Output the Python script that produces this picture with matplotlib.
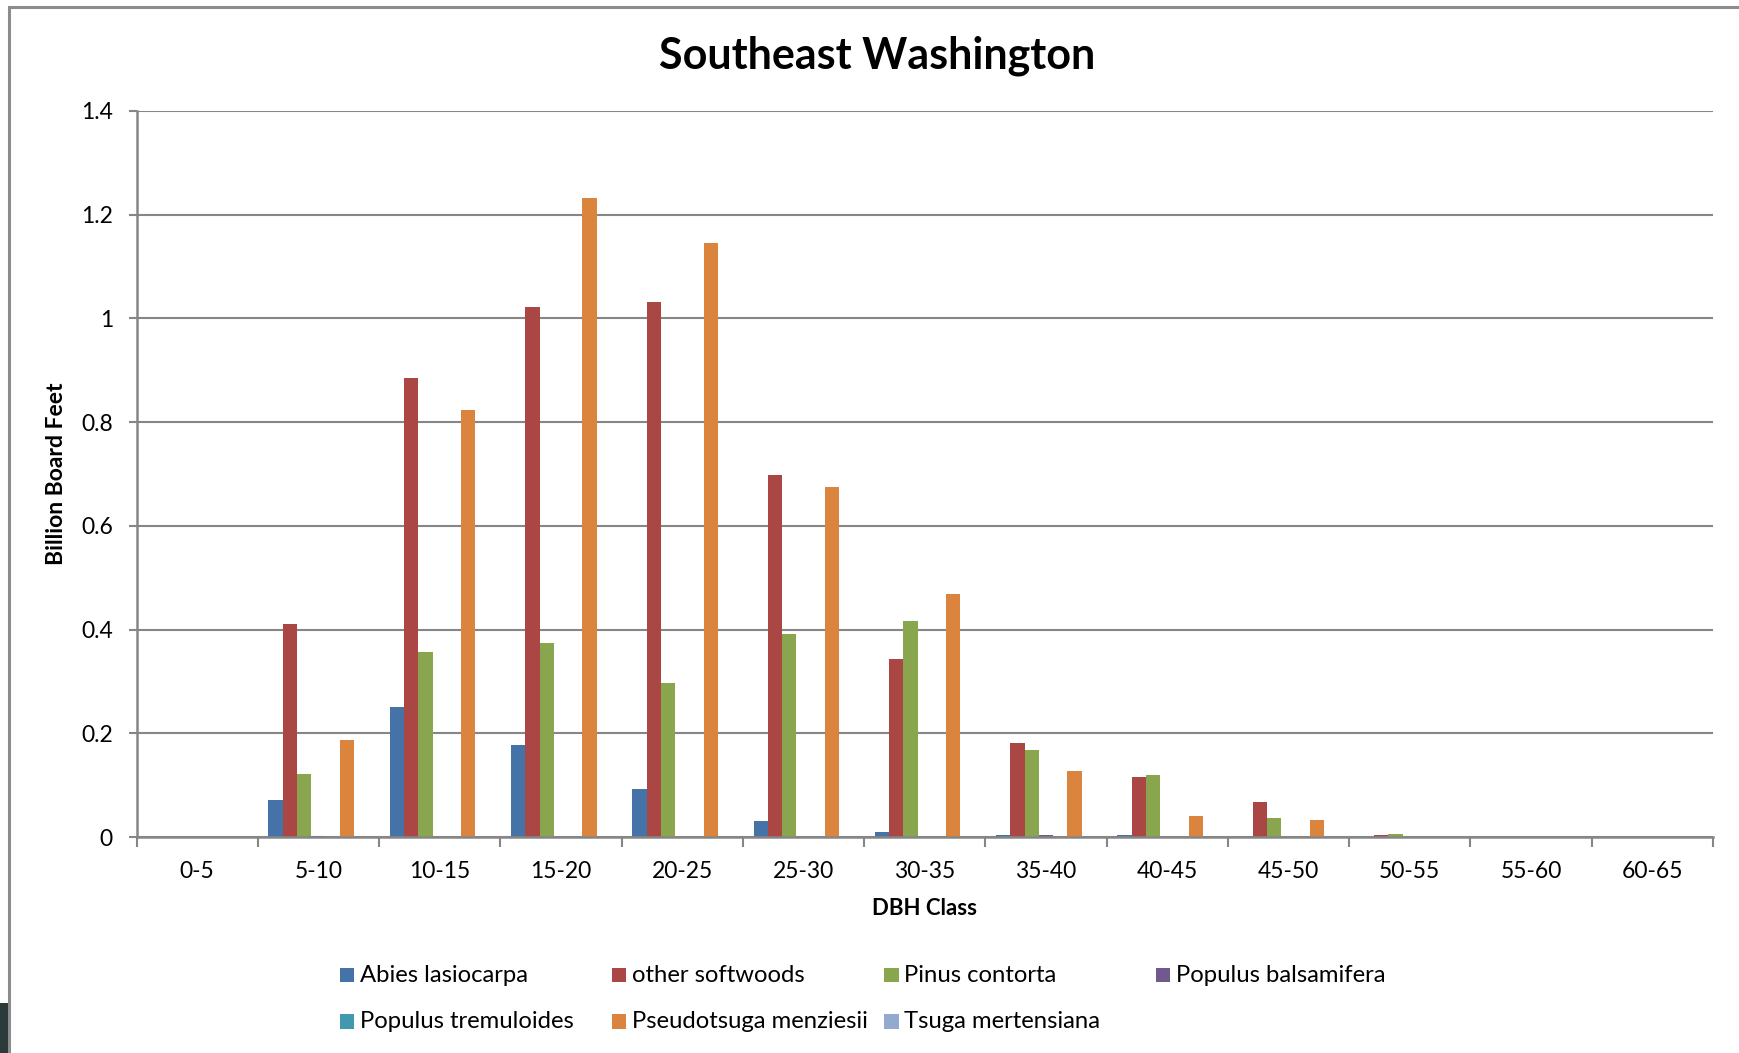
import matplotlib
matplotlib.use("Agg")
import matplotlib.pyplot as plt
from matplotlib.patches import Rectangle
import numpy as np

plt.rcParams['font.family'] = ['Lato', 'DejaVu Sans']

categories = ["0-5", "5-10", "10-15", "15-20", "20-25", "25-30", "30-35",
              "35-40", "40-45", "45-50", "50-55", "55-60", "60-65"]

abies_lasiocarpa = [0, 0.072, 0.251, 0.178, 0.093, 0.030, 0.009, 0.003, 0.0045, 0, 0, 0, 0]
other_softwoods = [0, 0.411, 0.885, 1.022, 1.032, 0.699, 0.344, 0.181, 0.116, 0.0675, 0.003, 0, 0]
pinus_contorta = [0, 0.121, 0.356, 0.375, 0.297, 0.391, 0.4165, 0.168, 0.120, 0.037, 0.0064, 0, 0]
populus_balsamifera = [0, 0.0026, 0, 0, 0, 0, 0, 0.003, 0, 0, 0, 0, 0]
populus_tremuloides = [0, 0, 0, 0, 0, 0, 0, 0, 0, 0, 0, 0, 0]
pseudotsuga_menziesii = [0, 0.187, 0.823, 1.233, 1.146, 0.675, 0.468, 0.127, 0.040, 0.033, 0, 0, 0]
tsuga_mertensiana = [0, 0, 0, 0, 0, 0, 0, 0, 0, 0, 0, 0, 0]

series_names = ["Abies lasiocarpa", "other softwoods", "Pinus contorta",
                "Populus balsamifera", "Populus tremuloides",
                "Pseudotsuga menziesii", "Tsuga mertensiana"]
series_values = [abies_lasiocarpa, other_softwoods, pinus_contorta,
                 populus_balsamifera, populus_tremuloides,
                 pseudotsuga_menziesii, tsuga_mertensiana]
colors = ["#4572A7", "#AA4643", "#89A54E", "#71588F", "#4198AF", "#DB843D", "#93A9CF"]

y_ticks = [0, 0.2, 0.4, 0.6, 0.8, 1.0, 1.2, 1.4]
y_tick_labels = ["0", "0.2", "0.4", "0.6", "0.8", "1", "1.2", "1.4"]

W, H = 1739, 1053
fig = plt.figure(figsize=(W / 100, H / 100), dpi=100)
fig.patch.set_facecolor("white")

# outer chart frame (extends past right/bottom edges)
fig.add_artist(Rectangle((8.5 / W, -0.1), 1.2, (H - 6.5) / H + 0.1,
                         transform=fig.transFigure, fill=False,
                         edgecolor="#8c8c8c", linewidth=2.2))
fig.add_artist(Rectangle((0, 0), 7.5 / W, 50 / H, transform=fig.transFigure,
                         facecolor="#2c3a3c", edgecolor="none"))

ax = fig.add_axes([136.5 / W, (H - 837) / H, (1713 - 136.5) / W, (837 - 111) / H])

n = len(series_values)
w = 1 / (n + 1.5)
x = np.arange(len(categories))
for j, (name, vals, c) in enumerate(zip(series_names, series_values, colors)):
    ax.bar(x + (j - (n - 1) / 2) * w, vals, width=w, color=c, label=name,
           edgecolor="none", zorder=3)

ax.set_xlim(-0.5, len(categories) - 0.5)
ax.set_ylim(0, 1.4)
ax.set_yticks(y_ticks)
ax.set_yticklabels(y_tick_labels)
ax.set_xticks(x)
ax.set_xticklabels(categories)
ax.set_xticks(np.arange(len(categories) + 1) - 0.5, minor=True)

gray = "#868686"
ax.yaxis.grid(True, color=gray, linewidth=1.5, zorder=0)
ax.set_axisbelow(True)
for s in ["top", "right"]:
    ax.spines[s].set_visible(False)
for s in ["left", "bottom"]:
    ax.spines[s].set_color(gray)
    ax.spines[s].set_linewidth(1.8)
    ax.spines[s].set_zorder(4)

ax.tick_params(axis="x", which="major", length=0, pad=17, labelsize=16.5)
ax.tick_params(axis="x", which="minor", length=7, width=1.5, color=gray, direction="out")
ax.tick_params(axis="y", length=6, width=1.5, color=gray, pad=11, labelsize=16.5)

ax.set_xlabel("DBH Class", fontsize=16, fontweight="bold", labelpad=12)
ax.set_ylabel("Billion Board Feet", fontsize=16.5, fontweight="bold", labelpad=10)

fig.text(0.5 + 8 / W, (H - 56) / H, "Southeast Washington", ha="center", va="center",
         fontsize=31, fontweight="bold")

# legend drawn as evenly spaced entries, row-wise in 4 columns
col_x = [339.5, 611.5, 884, 1155.5]
row_y = [975, 1021.5]
sq = 14.5
for k, (name, c) in enumerate(zip(series_names, colors)):
    r, cidx = divmod(k, 4)
    x0, yc = col_x[cidx], row_y[r]
    fig.add_artist(Rectangle((x0 / W, (H - yc - sq / 2) / H), sq / W, sq / H,
                             transform=fig.transFigure, facecolor=c, edgecolor="none"))
    fig.text((x0 + sq + 6) / W, (H - yc) / H, name, ha="left", va="center",
             fontsize=17.2)

fig.savefig("out.png", dpi=100, facecolor="white")
